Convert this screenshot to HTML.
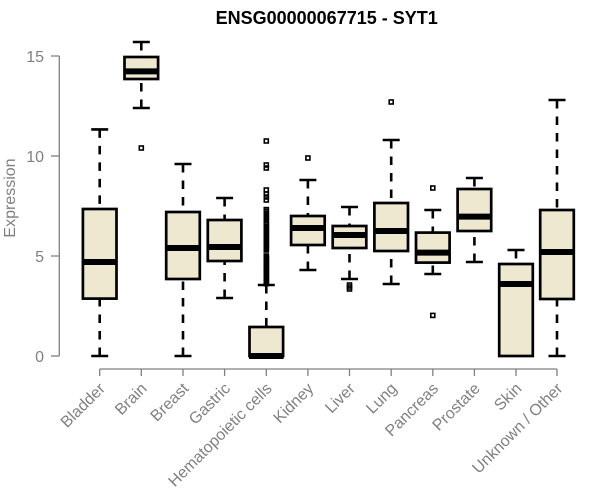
<!DOCTYPE html>
<html><head><meta charset="utf-8"><style>
html,body{margin:0;padding:0;background:#fff;}
svg{display:block;}
text{font-family:"Liberation Sans",Arial,sans-serif;}
</style></head><body>
<svg width="600" height="500" viewBox="0 0 600 500" xmlns="http://www.w3.org/2000/svg">
<rect width="600" height="500" fill="#fff"/>
<text x="326.7" y="24" text-anchor="middle" font-size="18" font-weight="bold" fill="#000">ENSG00000067715 - SYT1</text>
<g stroke="#808080" stroke-width="1.3" fill="none">
<line x1="59.3" y1="56" x2="59.3" y2="356"/>
<line x1="51" y1="56" x2="59.3" y2="56"/>
<line x1="51" y1="156" x2="59.3" y2="156"/>
<line x1="51" y1="256" x2="59.3" y2="256"/>
<line x1="51" y1="356" x2="59.3" y2="356"/>
<line x1="99.7" y1="369" x2="557" y2="369"/>
<line x1="99.7" y1="369" x2="99.7" y2="376"/>
<line x1="141.3" y1="369" x2="141.3" y2="376"/>
<line x1="183" y1="369" x2="183" y2="376"/>
<line x1="224.6" y1="369" x2="224.6" y2="376"/>
<line x1="266.3" y1="369" x2="266.3" y2="376"/>
<line x1="307.9" y1="369" x2="307.9" y2="376"/>
<line x1="349.5" y1="369" x2="349.5" y2="376"/>
<line x1="391.2" y1="369" x2="391.2" y2="376"/>
<line x1="432.8" y1="369" x2="432.8" y2="376"/>
<line x1="474.4" y1="369" x2="474.4" y2="376"/>
<line x1="516" y1="369" x2="516" y2="376"/>
<line x1="557" y1="369" x2="557" y2="376"/>
</g>
<g fill="#808080" font-size="16" text-anchor="end">
<text x="44" y="62">15</text>
<text x="44" y="162">10</text>
<text x="44" y="262">5</text>
<text x="44" y="362">0</text>
</g>
<text transform="translate(15,198) rotate(-90)" text-anchor="middle" font-size="16" fill="#808080">Expression</text>
<g fill="#808080" font-size="16" text-anchor="end">
<text transform="translate(106,389.5) rotate(-45)">Bladder</text>
<text transform="translate(147.8,389.5) rotate(-45)">Brain</text>
<text transform="translate(189.5,389.5) rotate(-45)">Breast</text>
<text transform="translate(231.1,389.5) rotate(-45)">Gastric</text>
<text transform="translate(272.8,389.5) rotate(-45)">Hematopoietic cells</text>
<text transform="translate(314.4,389.5) rotate(-45)">Kidney</text>
<text transform="translate(356,389.5) rotate(-45)">Liver</text>
<text transform="translate(397.7,389.5) rotate(-45)">Lung</text>
<text transform="translate(439.3,389.5) rotate(-45)">Pancreas</text>
<text transform="translate(480.9,389.5) rotate(-45)">Prostate</text>
<text transform="translate(522.5,389.5) rotate(-45)">Skin</text>
<text transform="translate(563.5,389.5) rotate(-45)">Unknown / Other</text>
</g>
<g id="boxes" stroke="#000" fill="none"></g>
<script>
(function(){
var NS="http://www.w3.org/2000/svg";
var g=document.getElementById("boxes");
function Y(v){return 356-20*v;}
function el(n,a){var e=document.createElementNS(NS,n);for(var k in a)e.setAttribute(k,a[k]);g.appendChild(e);return e;}
var data=[
[99.7,0,2.87,4.7,7.35,11.33,[]],
[141.3,12.4,13.85,14.23,14.95,15.7,[10.4]],
[183,0,3.85,5.4,7.2,9.6,[]],
[224.6,2.9,4.75,5.45,6.8,7.9,[]],
[266.3,0,0,0,1.45,3.55,null],
[307.9,4.3,5.55,6.4,7.0,8.8,[9.9]],
[349.5,3.85,5.4,6.05,6.5,7.45,[3.55,3.45,3.35]],
[391.2,3.6,5.25,6.25,7.65,10.8,[12.7]],
[432.8,4.1,4.67,5.17,6.17,7.3,[8.4,2.03]],
[474.4,4.7,6.25,6.97,8.35,8.9,[]],
[516,4.6,0,3.6,4.6,5.3,[]],
[557,0,2.85,5.2,7.3,12.8,[]]
];
var h=[];
for(var v=3.62;v<=5.0;v+=0.06)h.push(v);
for(var v=5.3;v<=6.5;v+=0.07)h.push(v);
for(var v=6.6;v<=7.4;v+=0.09)h.push(v);
h.push(7.8,7.95,8.1,8.3,9.4,9.55,10.75);
data[4][6]=h;
data.forEach(function(d){
 var x=d[0],lo=d[1],q1=d[2],md=d[3],q3=d[4],hi=d[5];
 var hw=16.8,cw=8.5;
 if(hi>q3){
  el("line",{x1:x,y1:Y(hi),x2:x,y2:Y(q3),"stroke-width":2.6,"stroke-dasharray":"8.5 8"});
  el("line",{x1:x-cw,y1:Y(hi),x2:x+cw,y2:Y(hi),"stroke-width":2.6});
 }
 if(q1>lo){
  el("line",{x1:x,y1:Y(lo),x2:x,y2:Y(q1),"stroke-width":2.6,"stroke-dasharray":"8.5 8"});
  el("line",{x1:x-cw,y1:Y(lo),x2:x+cw,y2:Y(lo),"stroke-width":2.6});
 }
 el("rect",{x:x-hw,y:Y(q3),width:2*hw,height:Y(q1)-Y(q3),fill:"#EDE8CF","stroke-width":2.7});
 el("line",{x1:x-hw-0.5,y1:Y(md),x2:x+hw+0.5,y2:Y(md),"stroke-width":6});
 (d[6]||[]).forEach(function(o){
  el("rect",{x:x-2,y:Y(o)-2,width:4,height:4,"stroke-width":1.6,fill:"none"});
 });
});
})();
</script>
</svg>
</body></html>
